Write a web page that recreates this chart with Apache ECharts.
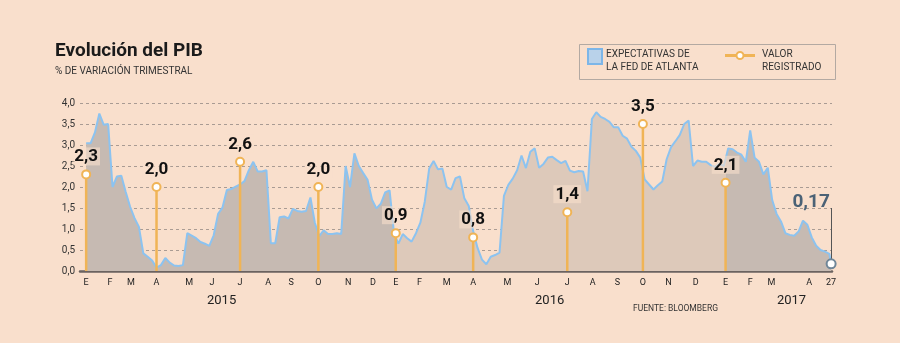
<!DOCTYPE html>
<html><head><meta charset="utf-8">
<script src="https://cdn.jsdelivr.net/npm/echarts@6/dist/echarts.min.js"></script>
<style>html,body{margin:0;padding:0;background:#f9dfcc;}#c{width:900px;height:343px;}</style>
</head><body><div id="c"></div>
<script>
const titulo = 'Evolución del PIB';
const subtitulo = '% DE VARIACIÓN TRIMESTRAL';
const fuente = 'FUENTE: BLOOMBERG';
const nombreExpectativas = 'EXPECTATIVAS DE\nLA FED DE ATLANTA';
const nombreValor = 'VALOR\nREGISTRADO';

// Nowcast series: one value every 5 days from fechaInicio; last value at fechaFinal
const fechaInicio = '2015-01-01';
const pasoDias = 5;
const fechaFinal = '2017-04-27';
const expectativas = [
  3.04,3.04,3.3,3.75,3.48,3.5,2.0,2.25,2.27,1.88,
  1.53,1.26,1.05,0.42,0.34,0.25,0.08,0.14,0.31,0.2,
  0.13,0.12,0.14,0.9,0.84,0.78,0.69,0.65,0.6,0.85,
  1.36,1.51,1.93,1.95,2.01,2.06,2.14,2.4,2.6,2.37,
  2.37,2.4,0.66,0.66,1.28,1.3,1.25,1.48,1.43,1.41,
  1.43,1.75,1.15,0.83,0.97,0.88,0.88,0.9,0.88,2.5,
  2.0,2.8,2.5,2.33,2.17,1.7,1.49,1.6,1.87,1.92,
  0.9,0.65,0.88,0.78,0.7,0.9,1.15,1.65,2.44,2.62,
  2.42,2.44,2.0,1.94,2.21,2.25,1.73,1.55,0.95,0.55,
  0.27,0.16,0.34,0.38,0.44,1.79,2.05,2.2,2.4,2.75,
  2.45,2.84,2.92,2.46,2.55,2.7,2.72,2.64,2.57,2.62,
  2.39,2.35,2.38,2.37,1.9,3.62,3.78,3.67,3.62,3.55,
  3.42,3.42,3.22,3.15,2.96,2.86,2.7,2.18,2.06,1.94,
  2.04,2.13,2.66,2.95,3.09,3.24,3.5,3.58,2.5,2.63,
  2.6,2.6,2.52,2.48,2.55,2.5,2.92,2.9,2.82,2.77,
  2.6,3.35,2.7,2.6,2.3,2.46,1.69,1.36,1.18,0.9,
  0.86,0.84,0.94,1.2,1.1,0.8,0.6,0.5,0.46,0.41,
  0.17
];

// Registered quarterly values
const trimestresFechas = ['2015-01-01','2015-03-22','2015-06-25','2015-09-22','2015-12-19','2016-03-16','2016-07-01','2016-09-25','2016-12-28'];
const trimestresValores = [2.3, 2.0, 2.6, 2.0, 0.9, 0.8, 1.4, 3.5, 2.1];
const ultimoValor = 0.17;

// Axis labels
const mesesEtiquetas = ['E','F','M','A','M','J','J','A','S','O','N','D','E','F','M','A','M','J','J','A','S','O','N','D','E','F','M','A','27'];
const mesesFechas = ['2015-01-01','2015-01-28','2015-02-21','2015-03-22','2015-04-28','2015-05-24','2015-06-25','2015-07-27','2015-08-22','2015-09-22','2015-10-26','2015-11-23','2015-12-19',
  '2016-01-15','2016-02-15','2016-03-16','2016-04-24','2016-05-28','2016-07-01','2016-07-30','2016-08-27','2016-09-25','2016-10-24','2016-11-24','2016-12-28',
  '2017-01-25','2017-02-18','2017-04-02','2017-04-27'];
const aniosEtiquetas = ['2015','2016','2017'];
const aniosFechas = ['2015-06-04','2016-06-11','2017-03-13'];
const bandasAnio = ['2015-12-19','2016-12-28'];
const ejeMin = '2014-12-25', ejeMax = '2017-04-28';

const t = s => { const [y,m,d] = s.split('-').map(Number); return new Date(y, m - 1, d).getTime(); };
const [y0, m0, d0] = fechaInicio.split('-').map(Number);
const serie = expectativas.map((v, i) => [
  i === expectativas.length - 1 ? t(fechaFinal) : new Date(y0, m0 - 1, d0 + pasoDias * i).getTime(), v
]);
const mesMap = {}; mesesFechas.forEach((f, i) => mesMap[t(f)] = mesesEtiquetas[i]);
const anioMap = {}; aniosFechas.forEach((f, i) => anioMap[t(f)] = aniosEtiquetas[i]);
const trimestres = trimestresFechas.map((f, i) => [t(f), trimestresValores[i]]);
const fmt = (v, d) => v.toFixed(d).replace('.', ',');

const ORANGE = '#f0b456', BLUE = '#8cc3f0', DARK = '#c6bab2', LIGHT = '#ddc9ba';
const FONT = 'Roboto';

const chart = echarts.init(document.getElementById('c'), null, {renderer: 'canvas'});
chart.setOption({
  backgroundColor: '#f9dfcc',
  animation: false,
  textStyle: {fontFamily: FONT},
  title: {
    text: titulo, subtext: subtitulo, left: 55, top: 42, padding: 0, itemGap: 5,
    textStyle: {fontFamily: FONT, fontWeight: 'bold', fontSize: 19, color: '#1b1b1b'},
    subtextStyle: {fontFamily: FONT, fontSize: 10, color: '#333'}
  },
  grid: {left: 80, right: 68, top: 103, bottom: 72},
  xAxis: [{
    type: 'value', min: t(ejeMin), max: t(ejeMax), scale: true,
    axisLine: {onZero: false, lineStyle: {color: '#6b6360', width: 2.5}},
    axisTick: {show: false},
    splitLine: {show: false},
    axisLabel: {
      customValues: mesesFechas.map(t), hideOverlap: false, margin: 7,
      showMinLabel: true, showMaxLabel: true,
      fontSize: 9, color: '#222', fontFamily: FONT,
      formatter: v => mesMap[v] || ''
    }
  }, {
    type: 'value', min: t(ejeMin), max: t(ejeMax), scale: true, position: 'bottom', offset: 0,
    axisLine: {show: false, onZero: false}, axisTick: {show: false}, splitLine: {show: false},
    axisLabel: {
      customValues: aniosFechas.map(t), hideOverlap: false, margin: 23,
      showMinLabel: true, showMaxLabel: true,
      fontSize: 13, color: '#222', fontFamily: FONT,
      formatter: v => anioMap[v] || ''
    }
  }],
  yAxis: {
    type: 'value', min: 0, max: 4, interval: 0.5,
    axisLine: {show: false}, axisTick: {show: false},
    axisLabel: {margin: 5, fontSize: 10, color: '#333', fontFamily: FONT, formatter: v => fmt(v, 1)},
    splitLine: {lineStyle: {color: '#958a84', width: 0.8, type: [3, 3]}}
  },
  visualMap: {
    type: 'piecewise', show: false, dimension: 0, seriesIndex: 0,
    pieces: [
      {lt: t(bandasAnio[0]), color: DARK},
      {gte: t(bandasAnio[0]), lt: t(bandasAnio[1]), color: LIGHT},
      {gte: t(bandasAnio[1]), color: DARK}
    ]
  },
  series: [{
    name: nombreExpectativas, type: 'line', data: serie, showSymbol: false, z: 2,
    lineStyle: {color: BLUE, width: 2},
    areaStyle: {opacity: 1}
  }, {
    name: nombreValor, type: 'bar', data: trimestres, barWidth: 2.5, z: 3,
    itemStyle: {color: ORANGE}
  }, {
    name: nombreValor, type: 'scatter', data: trimestres, z: 4,
    symbol: 'circle', symbolSize: 8,
    itemStyle: {color: '#fff', borderColor: ORANGE, borderWidth: 2, opacity: 1},
    label: {
      show: true, position: 'top', distance: 4,
      formatter: p => fmt(p.value[1], 1),
      fontFamily: FONT, fontWeight: 'bold', fontSize: 17, color: '#111',
      backgroundColor: 'rgba(249,223,204,0.6)', padding: [1, 2, 0, 2]
    }
  }, {
    name: 'ultimo', type: 'scatter', data: [[t(fechaFinal), ultimoValor]], z: 5,
    symbol: 'circle', symbolSize: 9,
    itemStyle: {color: '#fff', borderColor: '#6f8698', borderWidth: 2, opacity: 1},
    label: {
      show: true, position: 'top', offset: [-20, -42],
      formatter: p => fmt(p.value[1], 2),
      fontFamily: FONT, fontWeight: 'bold', fontSize: 19, color: '#4b6276'
    },
    markLine: {
      silent: true, symbol: 'none', label: {show: false},
      lineStyle: {color: '#555', width: 1, type: 'solid'},
      data: [[{coord: [t(fechaFinal), ultimoValor]}, {coord: [t(fechaFinal), 1.5]}]]
    }
  }],
  graphic: [
    {type: 'rect', left: 577, top: 42, shape: {width: 256, height: 35}, style: {fill: 'none', stroke: '#b3a9a2', lineWidth: 1}},
    {type: 'rect', left: 587, top: 48, shape: {width: 14, height: 15}, style: {fill: '#b9d2ea', stroke: '#7db6e8', lineWidth: 2}},
    {type: 'text', left: 606, top: 48, style: {text: nombreExpectativas, font: '10px Roboto', fill: '#333', lineHeight: 13}},
    {type: 'line', shape: {x1: 725, y1: 55.5, x2: 755, y2: 55.5}, style: {stroke: ORANGE, lineWidth: 3}},
    {type: 'circle', shape: {cx: 740, cy: 55.5, r: 3.5}, style: {fill: '#fff', stroke: ORANGE, lineWidth: 2}},
    {type: 'text', left: 762, top: 48, style: {text: nombreValor, font: '10px Roboto', fill: '#333', lineHeight: 13}},
    {type: 'text', left: 633, top: 304, style: {text: fuente, font: '8.5px Roboto', fill: '#333'}}
  ]
});
</script></body></html>
